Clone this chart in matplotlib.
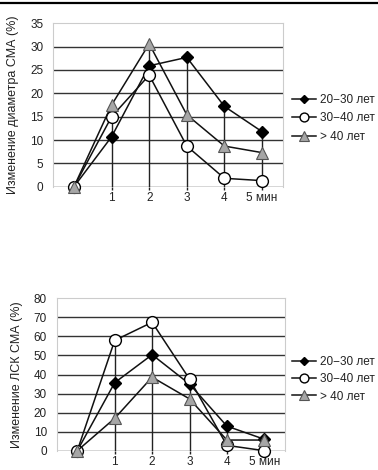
import matplotlib
matplotlib.use("Agg")
import matplotlib.pyplot as plt
from matplotlib.lines import Line2D
import numpy as np

plt.rcParams['font.family'] = ['Liberation Sans', 'DejaVu Sans']

x = [0, 1, 2, 3, 4, 5]
xticklabels = ['1', '2', '3', '4', '5 мин']
series_names = ['20−30 лет', '30−40 лет', '> 40 лет']

diam_20_30 = [0, 10.7, 25.9, 27.7, 17.2, 11.8]
diam_30_40 = [0, 15.0, 23.9, 8.7, 1.8, 1.3]
diam_40 = [0, 17.5, 30.6, 15.4, 8.7, 7.3]

lsk_20_30 = [0, 35.7, 50.4, 35.0, 12.9, 6.0]
lsk_30_40 = [0, 57.9, 67.4, 37.6, 2.8, 0.0]
lsk_40 = [0, 17.0, 38.6, 27.2, 5.6, 5.6]

W, H = 378, 470
fig = plt.figure(figsize=(W / 100, H / 100), dpi=100)

styles = [
    dict(marker='D', markersize=6.0, markerfacecolor='black', markeredgecolor='black'),
    dict(marker='o', markersize=8.5, markerfacecolor='white', markeredgecolor='black', markeredgewidth=1.0),
    dict(marker='^', markersize=9.0, markerfacecolor='#a6a6a6', markeredgecolor='#555555', markeredgewidth=0.8),
]


def panel(rect, data, ymax, ystep, ylabel, leg_y, spacing):
    ax = fig.add_axes(rect)
    ax.set_xlim(-0.55, 5.55)
    ax.set_ylim(0, ymax)
    yt = np.arange(0, ymax + 0.1, ystep)
    for v in yt[:-1]:
        ax.axhline(v, color='#333333', lw=1.0, zorder=1)
    top = np.max(np.array(data), axis=0)
    ax.vlines(x[1:], 0, top[1:], color='#222222', lw=1.0, zorder=1.5)
    for d, st in zip(data, styles):
        ax.plot(x, d, color='#111111', lw=1.1, zorder=3, clip_on=False, **st)
    for s in ax.spines.values():
        s.set_color('#cccccc')
        s.set_linewidth(0.8)
    ax.spines['bottom'].set_visible(False)
    ax.set_yticks(yt)
    ax.set_yticklabels([str(int(v)) for v in yt])
    ax.set_xticks(x[1:])
    ax.set_xticklabels(xticklabels)
    ax.tick_params(axis='y', length=0, pad=7, labelsize=8.5, colors='#222222')
    ax.tick_params(axis='x', length=2.5, width=1.0, color='#222222', direction='out',
                   pad=1.5, labelsize=8.5, labelcolor='#222222')
    ax.set_ylabel(ylabel, fontsize=9, color='#222222', labelpad=8)
    handles = [Line2D([0], [0], color='#111111', lw=1.1, **st) for st in styles]
    for h, st in zip(handles, styles):
        h.set_markersize(st['markersize'] * 0.75)
    fig.legend(handles, series_names, loc='upper left',
               bbox_to_anchor=(286 / W, leg_y), frameon=False, fontsize=8.5,
               handlelength=2.0, handletextpad=0.4, labelspacing=spacing,
               borderpad=0, labelcolor='#222222')
    return ax


# top panel: x0 pixel 74, step 37.6; y0 186.7, y35 23.3
l1 = (74 - 0.55 * 37.6) / W
w1 = 6.1 * 37.6 / W
panel([l1, 1 - 186.7 / H, w1, (186.7 - 23.3) / H],
      [diam_20_30, diam_30_40, diam_40], 35, 5,
      'Изменение диаметра СМА (%)', 1 - 88 / H, 0.55)

l2 = (77.3 - 0.55 * 37.4) / W
w2 = 6.1 * 37.4 / W
panel([l2, 1 - 450.7 / H, w2, (450.7 - 298.3) / H],
      [lsk_20_30, lsk_30_40, lsk_40], 80, 10,
      'Изменение ЛСК СМА (%)', 1 - 350 / H, 0.45)

fig.add_artist(Line2D([0, 1], [1 - 2.5 / H, 1 - 2.5 / H], color='black', lw=1.6,
                      transform=fig.transFigure))

fig.savefig('out.png', dpi=100)
